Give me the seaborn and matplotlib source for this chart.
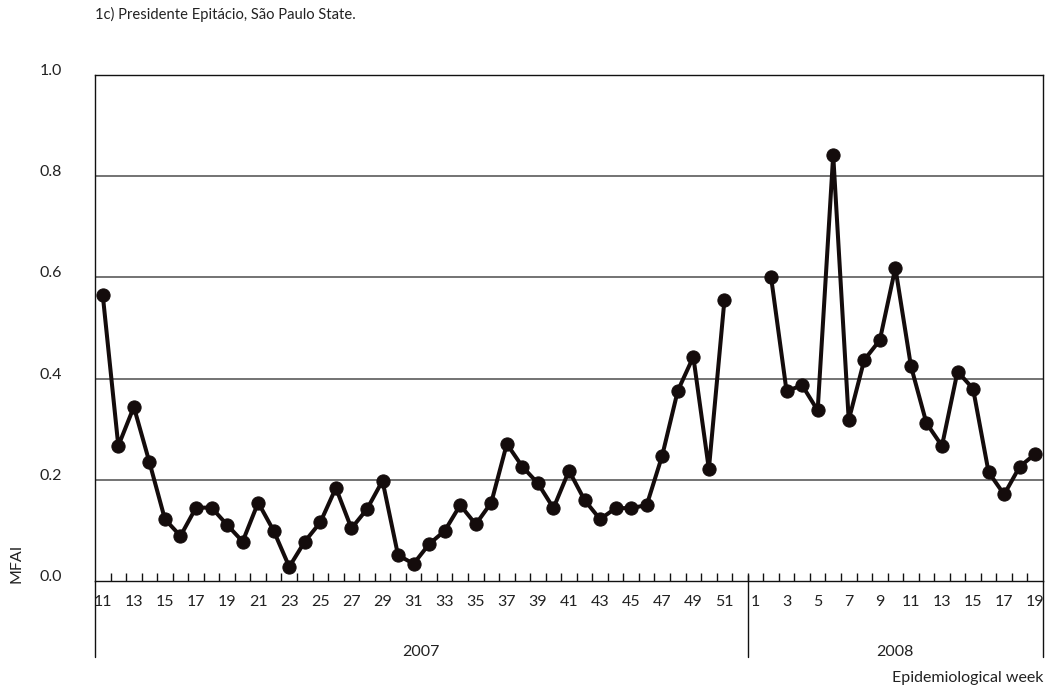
import numpy as np
import pandas as pd
import matplotlib
matplotlib.use("Agg")
import matplotlib.pyplot as plt
import matplotlib.transforms as mtransforms
import seaborn as sns

# Weekly MFAI, Presidente Epitácio (2007 week 52 and 2008 week 1 not sampled)
weeks_2007 = list(range(11, 52))
mfai_2007 = [0.565, 0.267, 0.344, 0.235, 0.122, 0.089, 0.145, 0.145, 0.111, 0.078,
             0.155, 0.099, 0.028, 0.078, 0.116, 0.184, 0.104, 0.142, 0.198, 0.051,
             0.034, 0.073, 0.099, 0.150, 0.112, 0.155, 0.271, 0.226, 0.193, 0.144,
             0.218, 0.160, 0.122, 0.144, 0.144, 0.150, 0.248, 0.376, 0.443, 0.221,
             0.555]
weeks_2008 = list(range(2, 20))
mfai_2008 = [0.601, 0.375, 0.387, 0.337, 0.842, 0.318, 0.437, 0.476, 0.619, 0.425,
             0.312, 0.267, 0.414, 0.380, 0.215, 0.171, 0.226, 0.251]

# Category axis: 2007 weeks 11-52 followed by 2008 weeks 1-19
axis_weeks_2007 = list(range(11, 53))
axis_weeks_2008 = list(range(1, 20))
year_labels = ["2007", "2008"]
y_ticks = [0.0, 0.2, 0.4, 0.6, 0.8, 1.0]

n07 = len(axis_weeks_2007)
n08 = len(axis_weeks_2008)
n_total = n07 + n08


def pos_2007(w):
    return axis_weeks_2007.index(w)


def pos_2008(w):
    return n07 + axis_weeks_2008.index(w)


df = pd.DataFrame({
    "pos": [pos_2007(w) for w in weeks_2007] + [pos_2008(w) for w in weeks_2008],
    "mfai": mfai_2007 + mfai_2008,
    "year": ["2007"] * len(weeks_2007) + ["2008"] * len(weeks_2008),
})

sns.set_theme(style="white")
plt.rcParams["font.family"] = ["Lato", "DejaVu Sans"]

FS = 11.5
TXT = "#222222"

fig = plt.figure(figsize=(10.45, 6.89), dpi=100)
ax = fig.add_axes([95 / 1045, 1 - 581 / 689, (1043 - 95) / 1045, (581 - 75) / 689])

ink = "#140c0c"
for y in y_ticks[1:-1]:
    ax.axhline(y, color="#4d4d4d", lw=1.1, zorder=1)

sns.lineplot(data=df, x="pos", y="mfai", units="year", estimator=None,
             color=ink, lw=2.9, marker="o", markersize=9.5,
             markeredgecolor=ink, markerfacecolor=ink, ax=ax, zorder=3, legend=False)

ax.set_xlim(-0.5, n_total - 0.5)
ax.set_ylim(0, 1.0)

for side in ["top", "left", "right", "bottom"]:
    ax.spines[side].set_visible(True)
    ax.spines[side].set_color("#111111")
    ax.spines[side].set_linewidth(1.0)

# y axis
ax.set_yticks(y_ticks)
ax.set_yticklabels([f"{v:.1f}" for v in y_ticks], fontsize=FS, color=TXT)
ax.tick_params(axis="y", length=0, pad=24)
shift = mtransforms.ScaledTranslation(0, 4 / 72, fig.dpi_scale_trans)
for lab in ax.get_yticklabels():
    lab.set_transform(lab.get_transform() + shift)
ax.set_ylabel("")

# x axis: labels on odd weeks, tick marks on category boundaries
label_pos = [pos_2007(w) for w in axis_weeks_2007 if w % 2 == 1] + \
            [pos_2008(w) for w in axis_weeks_2008 if w % 2 == 1]
label_txt = [str(w) for w in axis_weeks_2007 if w % 2 == 1] + \
            [str(w) for w in axis_weeks_2008 if w % 2 == 1]
ax.set_xticks(label_pos)
ax.set_xticklabels(label_txt, fontsize=FS, color=TXT)
ax.set_xticks(np.arange(0.5, n_total - 1, 1.0), minor=True)
ax.tick_params(axis="x", which="major", length=0, pad=10)
ax.tick_params(axis="x", which="minor", direction="in", length=6, width=1.0,
               color="#111111", bottom=True)
ax.set_xlabel("")

# Year brackets below the week labels
tr = ax.get_xaxis_transform()
for xb in [-0.5, n07 - 0.5, n_total - 0.5]:
    ax.plot([xb, xb], [-0.15, 0.0], transform=tr, color="#111111", lw=1.0,
            clip_on=False)
ax.plot([n07 - 0.5, n07 - 0.5], [0.0, 6 / 506], transform=tr, color="#111111",
        lw=1.0, clip_on=False)
ax.text((n07 - 1) / 2, -0.140, year_labels[0], transform=tr, ha="center",
        va="center", fontsize=FS, color=TXT)
ax.text(n07 + (n08 - 1) / 2, -0.140, year_labels[1], transform=tr, ha="center",
        va="center", fontsize=FS, color=TXT)
ax.text(1.0, -0.192, "Epidemiological week", transform=ax.transAxes, ha="right",
        va="center", fontsize=FS, color=TXT)

fig.text(16 / 1045, 1 - 563 / 689, "MFAI", rotation=90, ha="center", va="center",
         fontsize=FS, color=TXT)
fig.text(95 / 1045, 1 - 14 / 689, "1c) Presidente Epitácio, São Paulo State.",
         ha="left", va="center", fontsize=10.6, color=TXT)

fig.savefig("out.png", dpi=100)
